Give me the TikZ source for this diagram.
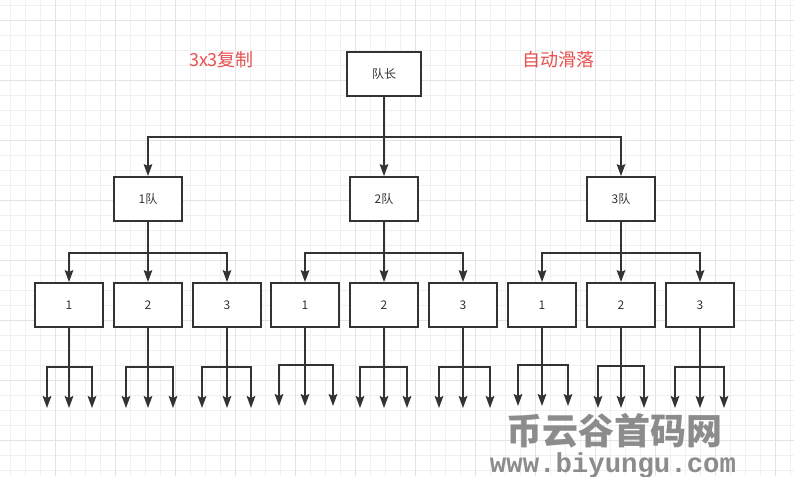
\documentclass[tikz,border=0pt]{standalone}
\usepackage{fontspec}
\setmainfont{Noto Sans CJK SC}
\newfontfamily\markmono{Liberation Mono}
\usepackage{xcolor}
\definecolor{cLine}   {HTML}{333333}
\definecolor{cRed}    {HTML}{EA4F4F}
\definecolor{cGridMin}{HTML}{F0F0F0}
\definecolor{cGridMaj}{HTML}{E3E3E3}
\definecolor{cMark}   {HTML}{8C8C8C}
\usetikzlibrary{arrows.meta}
\tikzset{
  box/.style  = {rectangle, draw=cLine, line width=1.4pt, fill=white,
                 minimum width=#1, minimum height=33pt, inner sep=0pt,
                 font=\fontsize{9}{10}\selectfont, text=cLine},
  box/.default = 51pt,
  arr/.style  = {-{Stealth[length=9pt,width=6.5pt,inset=1.5pt]},
                 draw=cLine, line width=1.1pt},
  lbl/.style  = {font=\fontsize{13.5}{15}\selectfont, text=cRed},
}

\begin{document}
\begin{tikzpicture}[x=0.75pt, y=-0.75pt]

  %% Canvas and grid
  \fill[white] (0,0) rectangle (794,476);
  \useasboundingbox (0,0) rectangle (794,476);
  \foreach \gx in {-5,10,...,790}
    \draw[cGridMin, line width=0.75pt] (\gx,0) -- (\gx,476);
  \foreach \gy in {5,20,...,470}
    \draw[cGridMin, line width=0.75pt] (0,\gy) -- (794,\gy);
  \foreach \gx in {55,115,...,775}
    \draw[cGridMaj, line width=0.75pt] (\gx,0) -- (\gx,476);
  \foreach \gy in {20,80,...,440}
    \draw[cGridMaj, line width=0.75pt] (0,\gy) -- (794,\gy);

  %% Labels
  \node[lbl] (copy)  at (221.5,60) {3x3复制};
  \node[lbl] (slide) at (558.5,60) {自动滑落};

  %% Leader and teams
  \node[box=56pt] (lead) at (384,74) {队长};
  \foreach \k/\x in {1/148,2/384,3/621}
    \node[box] (t\k) at (\x,199) {\k 队};

  %% Members
  \foreach \i/\x/\n in {1/69/1,2/148/2,3/227/3,4/305/1,5/384/2,
                        6/463/3,7/542/1,8/621/2,9/700/3}
    \node[box] (l\i) at (\x,305) {\n};

  %% Buses
  \coordinate (bus)  at (0,137);
  \coordinate (bus2) at (0,253);

  %% Arrows
  \draw[arr] (lead.south) -- (t2.north);
  \draw[arr] (lead.south) -- (lead.south |- bus) -| (t1.north);
  \draw[arr] (lead.south) -- (lead.south |- bus) -| (t3.north);

  \foreach \k/\a/\b/\c in {1/1/2/3,2/4/5/6,3/7/8/9} {
    \draw[arr] (t\k.south) -- (l\b.north);
    \draw[arr] (t\k.south) -- (t\k.south |- bus2) -| (l\a.north);
    \draw[arr] (t\k.south) -- (t\k.south |- bus2) -| (l\c.north);
  }

  %% Next level (open ends)
  \foreach \i/\x/\l/\r/\b/\e in {1/69/47/92/367/408,2/148/126/173/367/408,
      3/227/202/251/367/408,4/305/279/333/365/406,5/384/360/407/367/408,
      6/463/439/490/367/408,7/542/518/568/365/406,8/621/598/644/366/408,
      9/700/675/724/367/408} {
    \coordinate (f\i) at (\x,\b);
    \coordinate (a\i) at (\l,\e);
    \coordinate (m\i) at (\x,\e);
    \coordinate (c\i) at (\r,\e);
    \draw[arr] (l\i.south) -- (m\i);
    \draw[arr] (f\i) -| (a\i);
    \draw[arr] (f\i) -| (c\i);
  }

  %% Watermark
  \node[text=cMark, inner sep=0pt, font=\fontsize{27}{28}\selectfont\bfseries]
    (mark) at (614,431) {币云谷首码网};
  \node[text=cMark, inner sep=0pt, font=\markmono\fontsize{20.5}{22}\selectfont\bfseries]
    (site) at (613,465) {www.biyungu.com};

\end{tikzpicture}
\end{document}
